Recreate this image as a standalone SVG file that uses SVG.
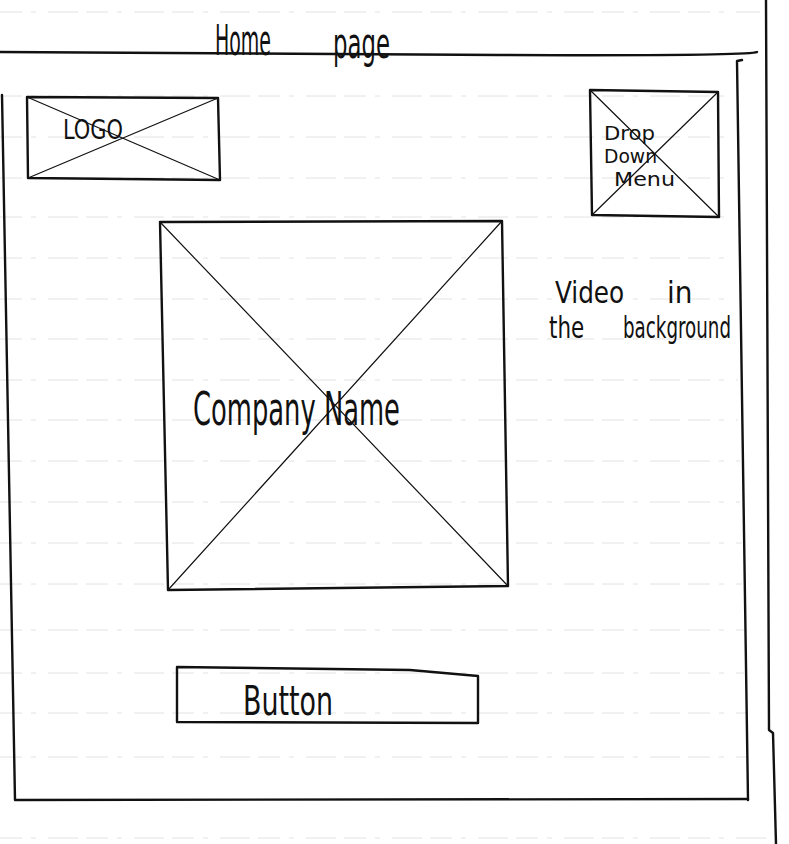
<svg xmlns="http://www.w3.org/2000/svg" width="789" height="844" viewBox="0 0 789 844">
<style>
.rule{stroke:#e2e2e2;stroke-width:1;stroke-dasharray:22 9 5 12 30 8;fill:none}
.ink{stroke:#111;stroke-width:2.4;fill:none;stroke-linecap:round;stroke-linejoin:round}
.thin{stroke:#111;stroke-width:1.2;fill:none;stroke-linecap:round}
.hand{font-family:"DejaVu Sans Condensed","Liberation Sans",sans-serif;fill:#111;font-weight:normal}
</style>
<rect x="0" y="0" width="789" height="844" fill="#fff"/>
<g id="paper-rules">
<line class="rule" x1="0" y1="12" x2="760" y2="12"/>
<line class="rule" x1="0" y1="96" x2="735" y2="96"/>
<line class="rule" x1="0" y1="137" x2="735" y2="137"/>
<line class="rule" x1="0" y1="178" x2="735" y2="178"/>
<line class="rule" x1="0" y1="217" x2="735" y2="217"/>
<line class="rule" x1="0" y1="258" x2="735" y2="258"/>
<line class="rule" x1="0" y1="299" x2="735" y2="299"/>
<line class="rule" x1="0" y1="339" x2="735" y2="339"/>
<line class="rule" x1="0" y1="380" x2="738" y2="380"/>
<line class="rule" x1="0" y1="420" x2="738" y2="420"/>
<line class="rule" x1="0" y1="461" x2="740" y2="461"/>
<line class="rule" x1="0" y1="502" x2="740" y2="502"/>
<line class="rule" x1="0" y1="543" x2="742" y2="543"/>
<line class="rule" x1="0" y1="584" x2="742" y2="584"/>
<line class="rule" x1="0" y1="630" x2="744" y2="630"/>
<line class="rule" x1="0" y1="673" x2="744" y2="673"/>
<line class="rule" x1="0" y1="713" x2="746" y2="713"/>
<line class="rule" x1="0" y1="757" x2="746" y2="757"/>
<line class="rule" x1="0" y1="838" x2="770" y2="838"/>
</g>
<g id="page-frame">
<path class="ink" d="M0 52 Q250 54 500 55 T757 52"/>
<path class="ink" d="M766 0 L769 730 L773 733 L776 844"/>
<path class="ink" d="M2 95 L15 800 L748 799"/>
<path class="ink" d="M742 60 L737 61 L748 800"/>
</g>
<g id="title">
<text class="hand" font-size="42"><tspan x="215" y="55" textLength="62" lengthAdjust="spacingAndGlyphs">Home </tspan><tspan x="333" y="58" textLength="57" lengthAdjust="spacingAndGlyphs">page</tspan></text>
</g>
<g id="logo">
<path class="ink" d="M27 97 L218 98 L220 180 L28 178 Z"/>
<line class="thin" x1="27" y1="97" x2="220" y2="180"/>
<line class="thin" x1="28" y1="178" x2="218" y2="98"/>
<text class="hand" x="63" y="139" font-size="27" textLength="60" lengthAdjust="spacingAndGlyphs">LOGO</text>
</g>
<g id="dropdown">
<path class="ink" d="M590 90 L718 92 L719 217 L592 215 Z"/>
<line class="thin" x1="590" y1="90" x2="719" y2="217"/>
<line class="thin" x1="592" y1="215" x2="718" y2="92"/>
<text class="hand" x="604" y="140" font-size="20" textLength="51" lengthAdjust="spacingAndGlyphs">Drop</text>
<text class="hand" x="604" y="163" font-size="20" textLength="53" lengthAdjust="spacingAndGlyphs">Down</text>
<text class="hand" x="614" y="186" font-size="20" textLength="61" lengthAdjust="spacingAndGlyphs">Menu</text>
</g>
<g id="hero">
<path class="ink" d="M160 222 L502 221 L508 586 L168 590 Z"/>
<line class="thin" x1="160" y1="222" x2="508" y2="586"/>
<line class="thin" x1="168" y1="590" x2="502" y2="221"/>
<text class="hand" x="193" y="425" font-size="46" textLength="207" lengthAdjust="spacingAndGlyphs">Company Name</text>
</g>
<g id="video-note">
<text class="hand" font-size="31"><tspan x="555" y="303" textLength="77" lengthAdjust="spacingAndGlyphs">Video </tspan><tspan x="667" y="303">in</tspan></text>
<text class="hand" font-size="30"><tspan x="549" y="338" textLength="42" lengthAdjust="spacingAndGlyphs">the </tspan><tspan x="623" y="338" textLength="108" lengthAdjust="spacingAndGlyphs">background</tspan></text>
</g>
<g id="button">
<path class="ink" d="M177 667 L410 670 L478 676 L478 723 L177 722 Z"/>
<text class="hand" x="243" y="715" font-size="40" textLength="90" lengthAdjust="spacingAndGlyphs">Button</text>
</g>
</svg>
